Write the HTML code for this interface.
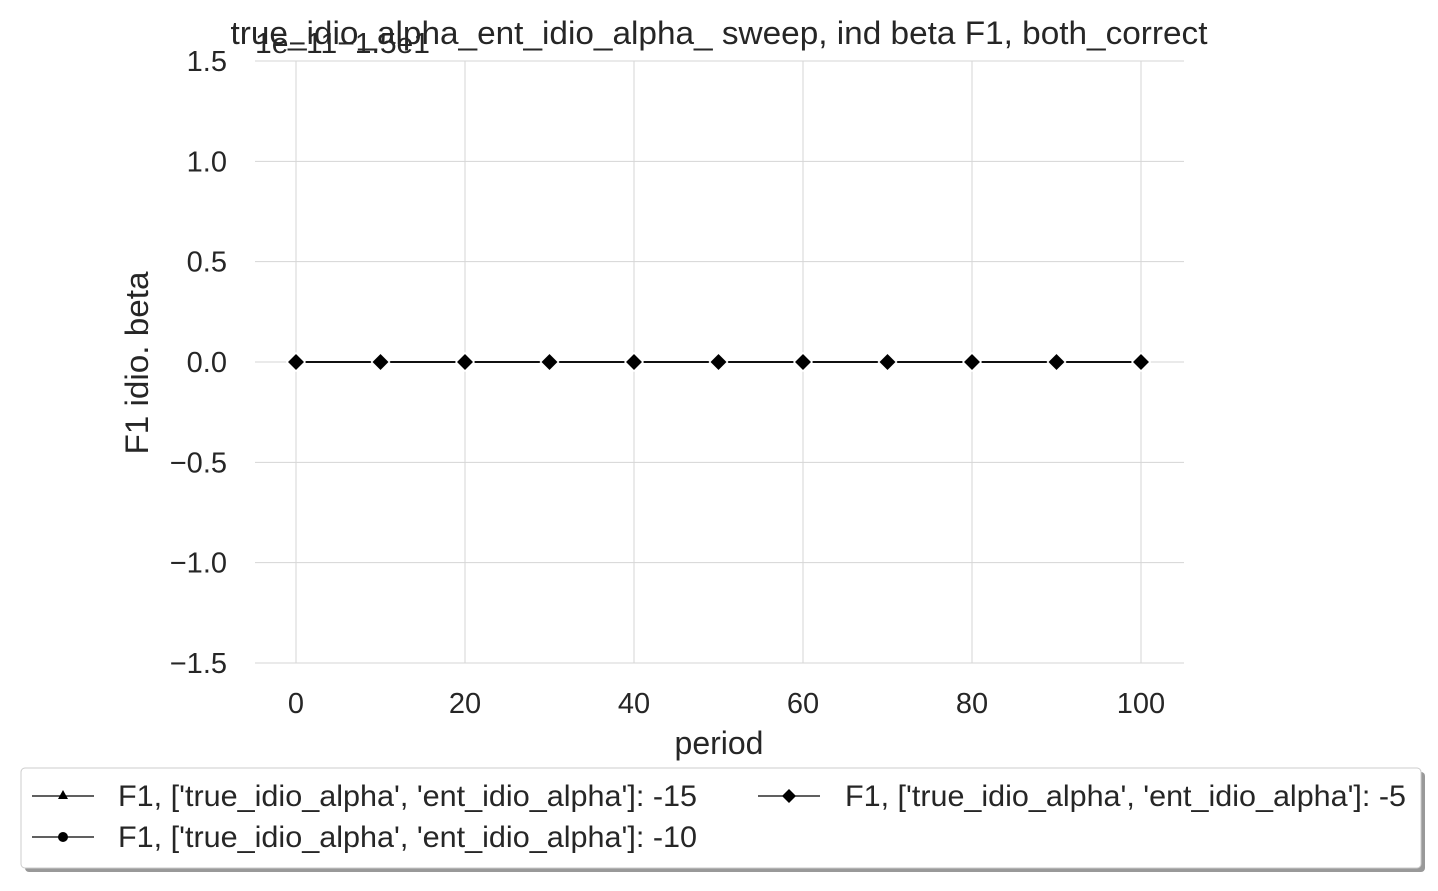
<!DOCTYPE html>
<html><head><meta charset="utf-8"><style>
body{margin:0;background:#fff;}
svg text{font-family:"Liberation Sans",sans-serif;fill:#262626;}
</style></head><body>
<svg width="1438" height="886">
<g id="grid"></g>
<g id="ticks"></g>
<g id="series"></g>
<text x="719" y="44" text-anchor="middle" font-size="32" textLength="977" lengthAdjust="spacingAndGlyphs">true_idio_alpha_ent_idio_alpha_ sweep, ind beta F1, both_correct</text>
<text x="255" y="53" font-size="29" textLength="175" lengthAdjust="spacingAndGlyphs">1e−11−1.5e1</text>
<text x="719" y="754" text-anchor="middle" font-size="32">period</text>
<text transform="translate(148,363) rotate(-90)" text-anchor="middle" font-size="32" textLength="183" lengthAdjust="spacingAndGlyphs">F1 idio. beta</text>
<g>
<rect x="25" y="772" width="1400" height="100" rx="4" fill="#999"/>
<rect x="21" y="768" width="1400" height="100" rx="4" fill="#fff" stroke="#ccc"/>
<g>
<line x1="32" y1="796" x2="94" y2="796" stroke="#000" stroke-width="1.3"/>
<polygon points="63,790 68,799 58,799" fill="#000"/>
<text x="118" y="806" font-size="30" textLength="579" lengthAdjust="spacingAndGlyphs">F1, ['true_idio_alpha', 'ent_idio_alpha']: -15</text></g>
<g>
<line x1="32" y1="837" x2="94" y2="837" stroke="#000" stroke-width="1.3"/>
<circle cx="63" cy="837" r="5" fill="#000"/>
<text x="118" y="847" font-size="30" textLength="579" lengthAdjust="spacingAndGlyphs">F1, ['true_idio_alpha', 'ent_idio_alpha']: -10</text></g>
<g>
<line x1="758" y1="796" x2="820" y2="796" stroke="#000" stroke-width="1.3"/>
<polygon points="789,789 796,796 789,803 782,796" fill="#000"/>
<text x="845" y="806" font-size="30" textLength="561" lengthAdjust="spacingAndGlyphs">F1, ['true_idio_alpha', 'ent_idio_alpha']: -5</text></g>
</g>
</svg>
<script>
const periods=[0,10,20,30,40,50,60,70,80,90,100];
const seriesM15=[0,0,0,0,0,0,0,0,0,0,0];
const seriesM10=[0,0,0,0,0,0,0,0,0,0,0];
const seriesM5=[0,0,0,0,0,0,0,0,0,0,0];
const xTicks=[0,20,40,60,80,100];
const yTicks=[-1.5,-1.0,-0.5,0.0,0.5,1.0,1.5];
const L=255,R=1184,T=61,B=663;
const x=v=>296+(v-0)*(1141-296)/100;
const y=v=>362-v*(B-T)/3;
const NS='http://www.w3.org/2000/svg';
function mk(tag,attrs,parent){const e=document.createElementNS(NS,tag);for(const k in attrs)e.setAttribute(k,attrs[k]);parent.appendChild(e);return e;}
const grid=document.getElementById('grid'),ticks=document.getElementById('ticks'),ser=document.getElementById('series');
xTicks.forEach(t=>{const l=mk('line',{x1:x(t),x2:x(t),y1:T,y2:B,stroke:'#d5d5d5','stroke-width':1},grid);


const tx=mk('text',{x:x(t),y:713,'text-anchor':'middle','font-size':29},ticks);tx.textContent=t;

});
yTicks.forEach(t=>{const l=mk('line',{x1:L,x2:R,y1:y(t),y2:y(t),stroke:'#d5d5d5','stroke-width':1},grid);


const tx=mk('text',{x:227,y:y(t)+10,'text-anchor':'end','font-size':29},ticks);tx.textContent=t.toFixed(1).replace('-','−');

});
[[seriesM15,'tri'],[seriesM10,'circ'],[seriesM5,'dia']].forEach(([s,m])=>{
const p=mk('polyline',{points:periods.map((v,i)=>x(v)+','+y(s[i])).join(' '),fill:'none',stroke:'#000','stroke-width':1.5},ser);


periods.forEach((v,i)=>{const cx=x(v),cy=y(s[i]);let e;
if(m==='tri')e=mk('polygon',{points:`${cx},${cy-7} ${cx+7},${cy+5} ${cx-7},${cy+5}`,fill:'#000',stroke:'#fff','stroke-width':1.5},ser);
else if(m==='circ')e=mk('circle',{cx:cx,cy:cy,r:6,fill:'#000',stroke:'#fff','stroke-width':1.5},ser);
else e=mk('polygon',{points:`${cx},${cy-9} ${cx+9},${cy} ${cx},${cy+9} ${cx-9},${cy}`,fill:'#000',stroke:'#fff','stroke-width':1.5},ser);

});});
</script>
</body></html>
